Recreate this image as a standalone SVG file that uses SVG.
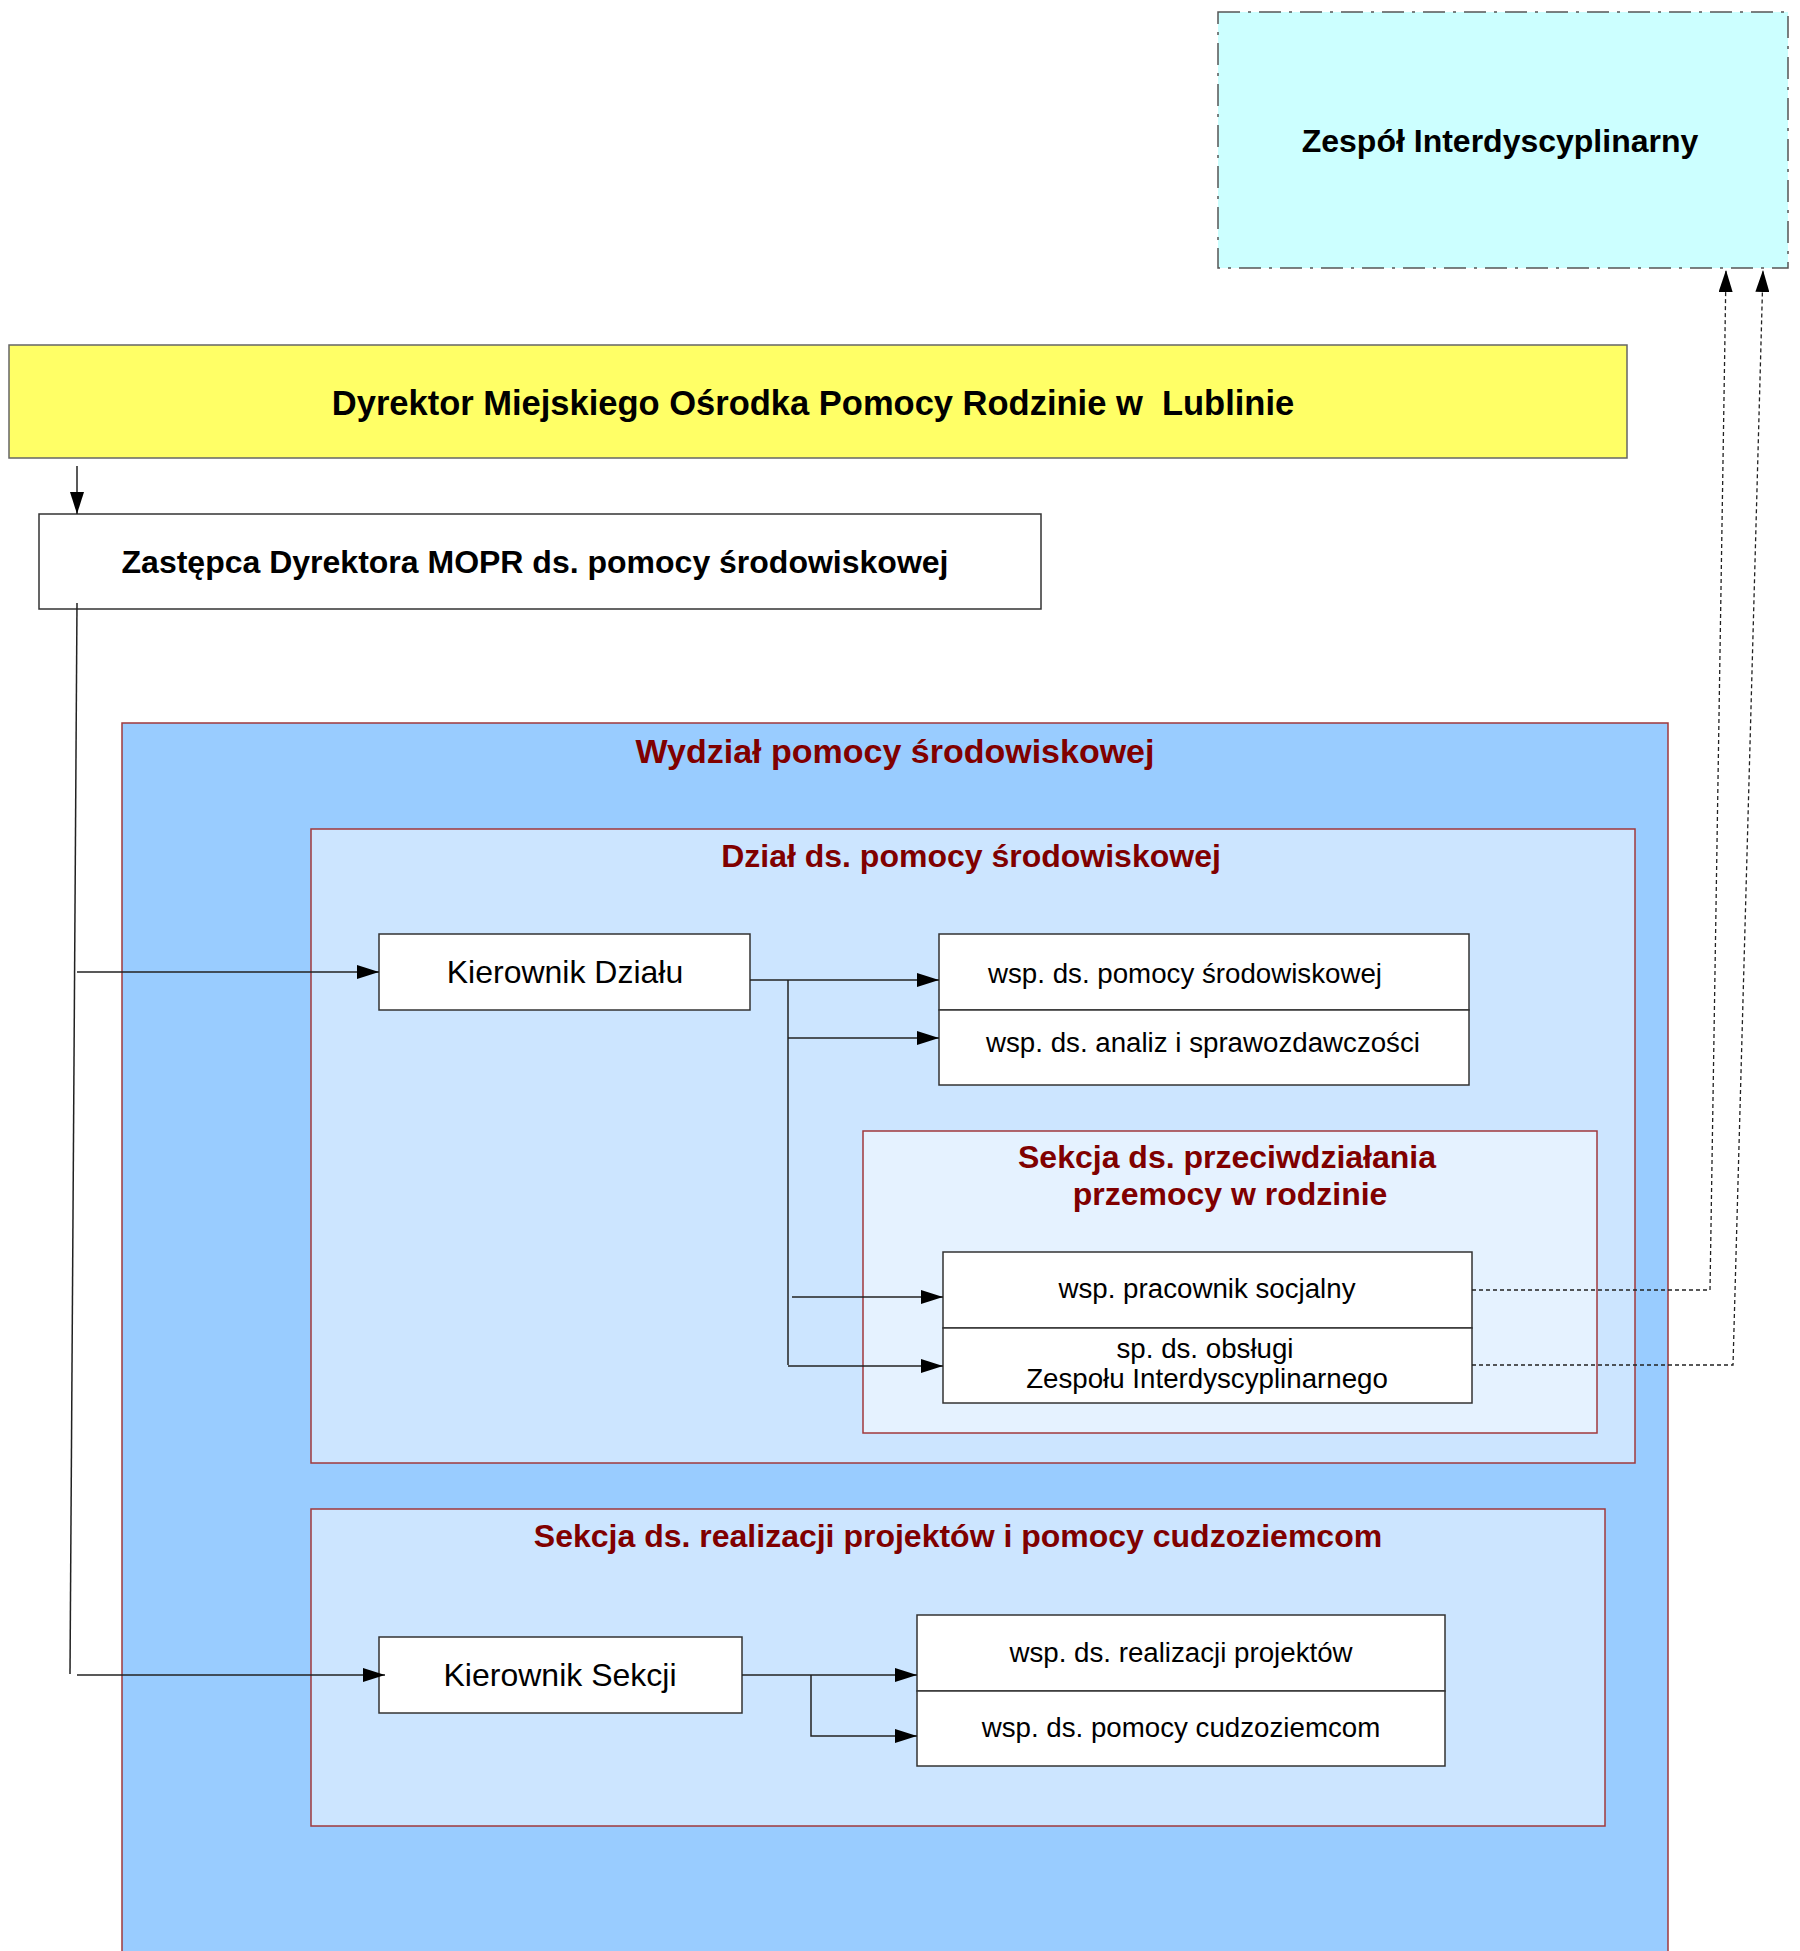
<svg xmlns="http://www.w3.org/2000/svg" width="1800" height="1951" viewBox="0 0 1800 1951">
<style>
  text { font-family: "Liberation Sans", Arial, sans-serif; }
  .bold { font-weight: bold; }
  .title { font-weight: bold; fill: #800000; }
  .node { fill: #ffffff; stroke: #333333; stroke-width: 1.5; }
  .cont { stroke: #a0393c; stroke-width: 1.5; }
  .lbl { font-size: 27.7px; fill: #000; text-anchor: middle; }
  .conn { stroke: #222222; stroke-width: 1.5; fill: none; }
  .dot { stroke: #222222; stroke-width: 1.3; fill: none; stroke-dasharray: 4 3; }
</style>
<defs>
  <marker id="arr" markerWidth="22" markerHeight="14" refX="22" refY="7" orient="auto" markerUnits="userSpaceOnUse">
    <path d="M0,0 L22,7 L0,14 Z" fill="#000"/>
  </marker>
</defs>

<rect width="1800" height="1951" fill="#ffffff"/>

<g id="zespol">
  <rect x="1218" y="12" width="570" height="256" fill="#ccffff" stroke="#555555" stroke-width="1.5" stroke-dasharray="22 8 3 8"/>
  <text class="bold" x="1500" y="152" font-size="32" text-anchor="middle">Zespół Interdyscyplinarny</text>
</g>

<g id="dyrektor">
  <rect x="9" y="345" width="1618" height="113" fill="#ffff66" stroke="#666666" stroke-width="1.5"/>
  <text class="bold" x="813" y="415" font-size="34.5" text-anchor="middle" xml:space="preserve">Dyrektor Miejskiego Ośrodka Pomocy Rodzinie w  Lublinie</text>
</g>

<g id="zastepca">
  <rect class="node" x="39" y="514" width="1002" height="95"/>
  <text class="bold" x="535" y="573" font-size="32" text-anchor="middle">Zastępca Dyrektora MOPR ds. pomocy środowiskowej</text>
</g>

<g id="wydzial">
  <rect class="cont" x="122" y="723" width="1546" height="1300" fill="#99ccff"/>
  <text class="title" x="895" y="763" font-size="34" text-anchor="middle">Wydział pomocy środowiskowej</text>
</g>

<g id="dzial">
  <rect class="cont" x="311" y="829" width="1324" height="634" fill="#cce5ff"/>
  <text class="title" x="971" y="867" font-size="32" text-anchor="middle">Dział ds. pomocy środowiskowej</text>
</g>

<g id="kierownik-dzialu">
  <rect class="node" x="379" y="934" width="371" height="76"/>
  <text x="565" y="983" font-size="32" text-anchor="middle">Kierownik Działu</text>
</g>

<g id="wsp-pomocy">
  <rect class="node" x="939" y="934" width="530" height="76"/>
  <text class="lbl" x="1185" y="983">wsp. ds. pomocy środowiskowej</text>
</g>

<g id="wsp-analiz">
  <rect class="node" x="939" y="1010" width="530" height="75"/>
  <text class="lbl" x="1203" y="1052">wsp. ds. analiz i sprawozdawczości</text>
</g>

<g id="sekcja-przemocy">
  <rect class="cont" x="863" y="1131" width="734" height="302" fill="#e5f2ff"/>
  <text class="title" x="1227" y="1168" font-size="32" text-anchor="middle">Sekcja ds. przeciwdziałania</text>
  <text class="title" x="1230" y="1205" font-size="32" text-anchor="middle">przemocy w rodzinie</text>
</g>

<g id="wsp-pracownik">
  <rect class="node" x="943" y="1252" width="529" height="76"/>
  <text class="lbl" x="1207" y="1298">wsp. pracownik socjalny</text>
</g>

<g id="sp-obslugi">
  <rect class="node" x="943" y="1328" width="529" height="75"/>
  <text class="lbl" x="1205" y="1358">sp. ds. obsługi</text>
  <text class="lbl" x="1207" y="1388">Zespołu Interdyscyplinarnego</text>
</g>

<g id="sekcja-projektow">
  <rect class="cont" x="311" y="1509" width="1294" height="317" fill="#cce5ff"/>
  <text class="title" x="958" y="1547" font-size="32" text-anchor="middle">Sekcja ds. realizacji projektów i pomocy cudzoziemcom</text>
</g>

<g id="kierownik-sekcji">
  <rect class="node" x="379" y="1637" width="363" height="76"/>
  <text x="560" y="1686" font-size="32" text-anchor="middle">Kierownik Sekcji</text>
</g>

<g id="wsp-projektow">
  <rect class="node" x="917" y="1615" width="528" height="76"/>
  <text class="lbl" x="1181" y="1662">wsp. ds. realizacji projektów</text>
</g>

<g id="wsp-cudzoziemcom">
  <rect class="node" x="917" y="1691" width="528" height="75"/>
  <text class="lbl" x="1181" y="1737">wsp. ds. pomocy cudzoziemcom</text>
</g>

<g id="connectors">
  <line class="conn" x1="77" y1="466" x2="77" y2="514" marker-end="url(#arr)"/>
  <line class="conn" x1="77" y1="603" x2="70" y2="1674"/>
  <line class="conn" x1="77" y1="972" x2="379" y2="972" marker-end="url(#arr)"/>
  <line class="conn" x1="77" y1="1675" x2="385" y2="1675" marker-end="url(#arr)"/>

  <line class="conn" x1="750" y1="980" x2="939" y2="980" marker-end="url(#arr)"/>
  <line class="conn" x1="788" y1="980" x2="788" y2="1365"/>
  <line class="conn" x1="788" y1="1038" x2="939" y2="1038" marker-end="url(#arr)"/>
  <line class="conn" x1="792" y1="1297" x2="943" y2="1297" marker-end="url(#arr)"/>
  <line class="conn" x1="788" y1="1366" x2="943" y2="1366" marker-end="url(#arr)"/>

  <line class="conn" x1="742" y1="1675" x2="917" y2="1675" marker-end="url(#arr)"/>
  <polyline class="conn" points="811,1675 811,1736 917,1736" marker-end="url(#arr)"/>

  <polyline class="dot" points="1472,1290 1710,1290 1726,270" marker-end="url(#arr)"/>
  <polyline class="dot" points="1472,1365 1733,1365 1763,270" marker-end="url(#arr)"/>
</g>
</svg>
